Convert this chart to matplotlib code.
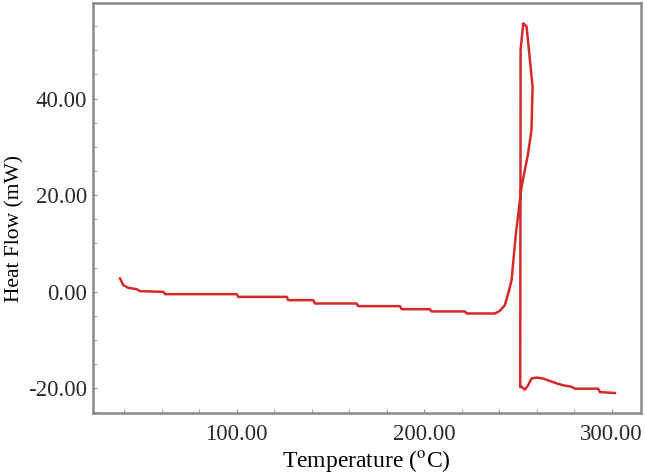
import matplotlib.pyplot as plt
from matplotlib.ticker import MultipleLocator, FormatStrFormatter

plt.rcParams['font.family'] = ['Liberation Serif', 'DejaVu Serif']
plt.rcParams['mathtext.fontset'] = 'stix'

# DSC trace (temperature in degC, heat flow in mW)
temperature = [37.8, 39.5, 42.2, 46.7, 48.4, 60.9, 61.8, 100.0, 100.9, 126.7,
               127.5, 140.9, 141.8, 164.0, 164.9, 187.1, 188.0, 203.1, 204.0, 221.8,
               222.7, 237.8, 240.4, 243.1, 244.9, 246.7, 247.5, 249.0, 252.0, 255.5,
               257.3, 257.9, 254.7, 252.9, 251.5, 251.3, 252.0, 253.8, 255.5, 257.3,
               260.0, 263.5, 267.1, 270.7, 274.2, 278.7, 280.4, 292.9, 293.8, 301.8]
heat_flow = [2.74, 1.35, 0.79, 0.52, 0.10, -0.04, -0.52, -0.52, -1.08, -1.08,
             -1.76, -1.76, -2.45, -2.45, -3.0, -3.0, -3.63, -3.63, -4.1, -4.1,
             -4.52, -4.52, -3.98, -2.8, -0.37, 2.38, 5.84, 12.06, 21.7, 28.6,
             33.5, 42.4, 54.9, 55.6, 50.1, -19.8, -19.7, -20.3, -19.4, -18.0,
             -17.8, -18.0, -18.5, -19.0, -19.4, -19.7, -20.1, -20.1, -20.8, -21.0]

fig = plt.figure(figsize=(6.45, 4.75), dpi=100)
ax = fig.add_axes([0.1437, 0.1299, 0.850, 0.8638])

ax.plot(temperature, heat_flow, color='#d42a2a', lw=1.8)

ax.set_xlim(23.2, 315.7)
ax.set_ylim(-25.2, 59.8)
ax.xaxis.set_major_locator(MultipleLocator(100))
ax.xaxis.set_minor_locator(MultipleLocator(20))
ax.yaxis.set_major_locator(MultipleLocator(20))
ax.yaxis.set_minor_locator(MultipleLocator(5))
ax.xaxis.set_major_formatter(FormatStrFormatter('%.2f'))
ax.yaxis.set_major_formatter(FormatStrFormatter('%.2f'))

ax.tick_params(which='both', direction='in', length=3, color='#909090',
               labelsize=16.5, labelcolor='#2a2a2a')
ax.tick_params(axis='x', pad=8)
ax.tick_params(axis='y', pad=4)

for s in ax.spines.values():
    s.set_color('#8a8a8a')
    s.set_linewidth(1.8)

ax.set_xlabel('Temperature ($^{\\mathrm{o}}$C)', fontsize=17, labelpad=2)
ax.set_ylabel('Heat Flow (mW)', fontsize=15.5)
ax.yaxis.set_label_coords(-0.124, 0.45)

fig.savefig('out.png', dpi=100)
